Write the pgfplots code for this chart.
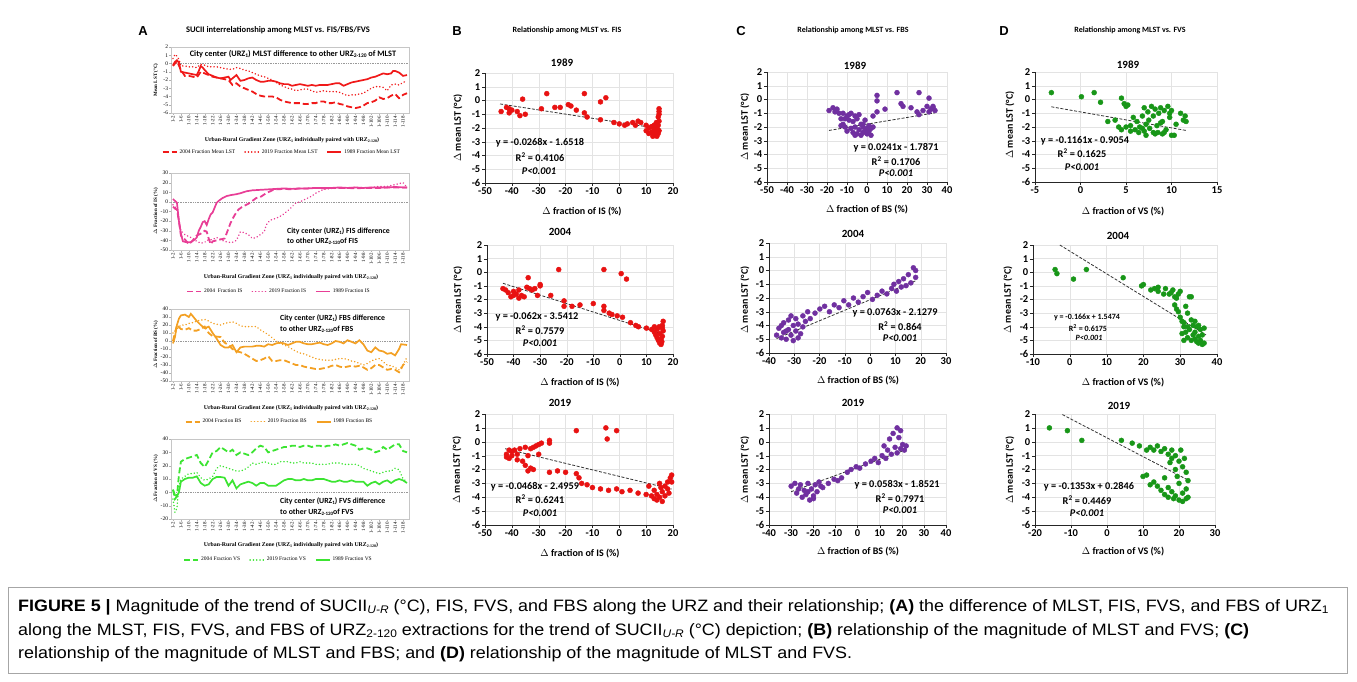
\documentclass[border=0pt]{standalone}
\usepackage{fontspec}
\setmainfont{Carlito}
\newfontfamily\tnr{Liberation Serif}
\newfontfamily\arl{Liberation Sans}
\newfontfamily\capfont[FakeStretch=1.085]{Liberation Sans}
\usepackage{pgfplots}
\pgfplotsset{compat=1.18}
\definecolor{cred}{RGB}{240,25,25}
\definecolor{cpink}{RGB}{232,62,150}
\definecolor{corange}{RGB}{243,160,35}
\definecolor{cgreen}{RGB}{60,228,50}
\definecolor{sred}{RGB}{232,18,18}
\definecolor{spurple}{RGB}{112,48,160}
\definecolor{sgreen}{RGB}{24,150,24}
\newcommand\sbs[2]{\raisebox{-0.3ex}{\fontsize{#1}{#1}\selectfont #2}}
\newcommand\fl{\bfseries\fontsize{10}{11}\selectfont}
\newcommand\fa{\bfseries\fontsize{10.3}{12}\selectfont}
\newcommand\ftl{\bfseries\fontsize{11}{12}\selectfont}
\pgfplotsset{
 aax/.style={scale only axis, width=238pt, xmin=1, xmax=121, xtick={2,6,...,118},
   xticklabel={\pgfmathtruncatemacro\tk{\tick}1-\tk},
   x tick label style={rotate=90, anchor=east, font=\tnr\fontsize{5}{5}\selectfont, inner sep=1pt},
   y tick label style={font=\tnr\fontsize{5.5}{6}\selectfont, inner sep=1pt},
   /pgf/number format/assume math mode=true,
   axis line style={gray!45}, major tick length=1.8pt, tick style={gray!60}, tick align=outside, tick pos=left,
   legend style={draw=none, fill=none, legend columns=3, anchor=center, font=\tnr\fontsize{5.5}{6}\selectfont,
     /tikz/every even column/.append style={column sep=7pt}},
   legend image code/.code={\draw[#1] (0pt,0pt) -- (14pt,0pt);}},
 dashA/.style={line width=1.8pt, dash pattern=on 6pt off 3pt},
 dotA/.style={line width=1.6pt, dash pattern=on 0.1pt off 3.2pt, line cap=round},
 solA/.style={line width=1.7pt},
 zeroA/.style={gray!80, densely dotted, line width=0.7pt, forget plot},
 sax/.style={scale only axis, ymin=-6, ymax=2, ytick={-6,...,2}, axis x line*=bottom, axis y line*=left,
   grid=major, major grid style={gray!22, line width=0.4pt}, axis line style={black!85, line width=0.7pt},
   tick style={black!85}, tick align=outside, major tick length=3pt,
   tick label style={font=\bfseries\fontsize{10.5}{11}\selectfont, inner sep=1.5pt},
   /pgf/number format/assume math mode=true, clip=false},
 dots/.style={only marks, mark=*, mark size=2.5pt, color=#1},
 trend/.style={black!80, line width=0.8pt, dash pattern=on 3pt off 1.6pt}
}
\begin{document}
\begin{tikzpicture}
\path[use as bounding box] (0pt,0pt) rectangle (1357pt,-681pt);
% ---------------- Column A ----------------
\node[font=\arl\bfseries\fontsize{13}{13}\selectfont] at (143pt,-31pt) {A};
\node[font=\bfseries\fontsize{8.5}{9}\selectfont] at (278pt,-30pt) {SUCII interrelationship among MLST vs. FIS/FBS/FVS};
% A1
\begin{axis}[aax, at={(171pt,-113pt)}, anchor=south west, height=66pt, ymin=-6, ymax=2, ytick={-6,...,2},
  legend style={at={(0.466,-0.591)}}]
\addplot[zeroA] coordinates {(1,0) (121,0)};
\addplot[cred, dashA] coordinates {(2,-0.3)(4,0.3)(6,-0.8)(8,-1.5)(10,-1.5)(12,-1.6)(14,-1.7)(16,-1.0)(18,-1.2)(20,-1.4)(22,-1.6)(24,-1.7)(26,-1.8)(28,-1.9)(30,-2.0)(32,-2.6)(34,-2.4)(36,-2.8)(38,-3.0)(40,-3.2)(42,-3.4)(44,-3.7)(46,-3.9)(48,-4.0)(50,-4.0)(52,-4.0)(54,-4.1)(56,-4.4)(58,-4.6)(60,-4.7)(62,-4.8)(64,-4.8)(66,-4.8)(68,-4.9)(70,-4.9)(72,-4.8)(74,-4.8)(76,-4.6)(78,-4.6)(80,-4.8)(82,-4.8)(84,-4.7)(86,-4.9)(88,-5.0)(90,-5.2)(92,-5.3)(94,-5.4)(96,-5.3)(98,-5.1)(100,-4.8)(102,-4.7)(104,-4.5)(106,-4.1)(108,-4.3)(110,-4.2)(112,-3.9)(114,-3.7)(116,-4.2)(118,-3.8)(120,-3.6)};
\addlegendentry{2004 Fraction Mean LST}
\addplot[cred, dotA] coordinates {(2,0.6)(3,1.1)(4,0.9)(5,0.5)(6,-0.3)(8,-0.3)(10,-0.4)(12,-0.4)(14,-0.5)(16,-0.1)(18,-0.2)(20,-0.4)(22,-0.4)(24,-0.4)(26,-0.5)(28,-0.6)(30,-0.7)(32,-0.7)(34,-0.5)(36,-0.6)(38,-0.8)(40,-0.9)(42,-1.1)(44,-1.3)(46,-1.5)(48,-1.6)(50,-1.8)(52,-2.0)(54,-2.3)(56,-2.6)(58,-2.8)(60,-3.0)(62,-3.1)(64,-3.3)(66,-3.2)(68,-3.1)(70,-3.1)(72,-3.3)(74,-3.5)(76,-3.4)(78,-3.3)(80,-3.4)(82,-3.4)(84,-3.4)(86,-3.5)(88,-3.7)(90,-3.9)(92,-3.8)(94,-3.8)(96,-3.7)(98,-3.6)(100,-3.3)(102,-3.0)(104,-2.8)(106,-2.8)(108,-2.9)(110,-3.3)(112,-2.6)(114,-2.5)(116,-2.6)(118,-2.3)(120,-2.1)};
\addlegendentry{2019 Fraction Mean LST}
\addplot[cred, solA] coordinates {(2,-0.2)(3,0.2)(4,0.4)(5,0.1)(6,-1.0)(8,-1.1)(10,-1.2)(12,-1.3)(14,-1.4)(15,-0.9)(16,-0.3)(17,-0.5)(18,-0.8)(20,-1.3)(22,-1.5)(24,-1.7)(26,-1.8)(28,-1.7)(30,-1.6)(31,-2.0)(32,-1.8)(34,-1.4)(36,-2.1)(38,-2.0)(40,-1.8)(42,-1.7)(44,-2.0)(46,-2.2)(48,-2.2)(50,-2.1)(52,-2.1)(54,-2.2)(56,-2.4)(58,-2.5)(60,-2.5)(62,-2.7)(64,-2.6)(66,-2.5)(68,-2.6)(70,-2.7)(72,-2.6)(74,-2.7)(76,-2.6)(78,-2.6)(80,-2.6)(82,-2.5)(84,-2.4)(86,-2.4)(88,-2.7)(90,-2.5)(92,-2.3)(94,-2.2)(96,-2.1)(98,-2.0)(100,-1.9)(102,-1.7)(104,-1.6)(106,-1.4)(108,-1.2)(110,-1.3)(112,-1.2)(113,-0.9)(114,-0.9)(116,-1.1)(118,-1.5)(120,-1.4)};
\addlegendentry{1989 Fraction Mean LST}
\end{axis}
\node[fill=white, inner sep=1pt, font=\bfseries\fontsize{8.3}{9}\selectfont] at (293pt,-54pt) {City center (URZ\sbs{5.5}{1}) MLST difference to other URZ\sbs{5.5}{2-120} of MLST};
\node[rotate=90, font=\tnr\bfseries\fontsize{5}{6}\selectfont] at (156pt,-80pt) {Mean LST (°C)};
\node[font=\tnr\bfseries\fontsize{5.8}{6}\selectfont] at (292pt,-140pt) {Urban-Rural Gradient Zone (URZ\sbs{4}{1} individually paired with URZ\sbs{4}{2-120})};
% A2
\begin{axis}[aax, at={(171pt,-250pt)}, anchor=south west, height=77pt, ymin=-50, ymax=30, ytick={-50,-40,...,30},
  legend style={at={(0.454,-0.54)}}]
\addplot[zeroA] coordinates {(1,0) (121,0)};
\addplot[cpink, dashA] coordinates {(2,-5)(3,-7)(4,-8)(5,-20)(6,-35)(7,-38)(8,-39)(10,-44)(12,-40)(14,-35)(16,-33)(18,-30)(19,-31)(20,-38)(21,-44)(22,-41)(24,-40)(26,-39)(28,-38)(29,-33)(31,-22)(33,-14)(35,-8)(37,-5)(40,-2)(42,1)(44,4)(46,5)(49,9)(52,12)(54,13)(58,13.5)(62,13)(66,14)(70,14)(74,14.5)(78,14)(82,14.5)(86,14.5)(90,14.5)(94,14)(98,14.5)(102,14.5)(106,14.5)(110,15)(114,15)(118,15)(120,15)};
\addlegendentry{2004\ \ Fraction IS}
\addplot[cpink, dotA] coordinates {(2,-3)(3,-5)(4,-8)(5,-20)(6,-30)(8,-34)(10,-36)(12,-38)(14,-41)(16,-43)(18,-42)(19,-40)(22,-39)(24,-37)(26,-39)(28,-41)(30,-42)(32,-42)(34,-40)(36,-31)(38,-32)(40,-34)(42,-38)(44,-37)(46,-34)(48,-31)(49,-24)(51,-19)(54,-17)(57,-14)(60,-9)(62,-5)(64,-1)(66,0)(68,2)(70,4)(72,6)(74,9)(76,11)(78,13)(82,14)(86,14.5)(90,14.5)(94,15)(98,14.5)(102,15)(106,16)(110,16)(112,17)(114,18)(116,19)(118,20)(120,15)};
\addlegendentry{2019 Fraction IS}
\addplot[cpink, solA] coordinates {(2,3)(3,1)(4,-1)(5,-20)(6,-33)(7,-41)(9,-42)(11,-42)(13,-39)(14,-37)(15,-30)(16,-26)(17,-21)(18,-20)(19,-24)(20,-18)(21,-13)(22,-11)(23,-6)(24,-1)(25,1)(27,4)(29,6)(31,7)(34,8)(36,9)(39,11)(42,12)(46,12.5)(50,13)(54,13.5)(58,14)(62,13.5)(66,14)(70,14)(74,14.5)(78,14.5)(82,14.5)(86,15)(90,14.5)(94,15)(98,14.5)(102,15)(106,15)(110,15)(114,15.5)(118,15)(120,15)};
\addlegendentry{1989 Fraction IS}
\end{axis}
\node[anchor=west, align=left, inner sep=0pt, font=\bfseries\fontsize{7.8}{10}\selectfont] at (287pt,-236pt) {City center (URZ\sbs{5}{1}) FIS difference\\to other URZ\sbs{5}{2-120}of FIS};
\node[rotate=90, font=\tnr\bfseries\fontsize{5}{6}\selectfont] at (156pt,-211pt) {$\Delta$ Fraction of IS (\%)};
\node[font=\tnr\bfseries\fontsize{5.8}{6}\selectfont] at (291pt,-277pt) {Urban-Rural Gradient Zone (URZ\sbs{4}{1} individually paired with URZ\sbs{4}{2-120})};
% A3
\begin{axis}[aax, at={(171pt,-381pt)}, anchor=south west, height=72pt, ymin=-50, ymax=40, ytick={-50,-40,...,40},
  legend style={at={(0.456,-0.565)}}]
\addplot[zeroA] coordinates {(1,0) (121,0)};
\addplot[corange, dashA] coordinates {(2,0)(4,20)(6,15)(8,14)(10,16)(12,13)(14,13)(16,15)(18,18)(20,10)(22,6)(26,5)(28,-2)(30,-5)(32,-10)(34,-13)(36,-14)(38,-16)(40,-19)(42,-22)(44,-25)(46,-24)(48,-22)(50,-19)(52,-25)(54,-25)(56,-24)(58,-24)(60,-26)(62,-28)(64,-30)(66,-30)(68,-32)(70,-33)(72,-34)(74,-35)(76,-35)(78,-34)(80,-33)(82,-31)(84,-30)(86,-32)(88,-33)(90,-32)(92,-31)(94,-32)(96,-31)(98,-33)(100,-36)(102,-34)(104,-30)(106,-30)(108,-33)(110,-36)(112,-35)(114,-36)(116,-39)(117,-35)(118,-30)(120,-26)};
\addlegendentry{2004 Fraction BS}
\addplot[corange, dotA] coordinates {(2,10)(4,15)(6,20)(8,20)(10,22)(12,23)(14,25)(16,26)(18,27)(20,25)(22,22)(24,21)(26,20)(28,22)(30,23)(32,24)(34,22)(36,19)(38,18)(40,18)(42,18)(44,18)(46,14)(48,11)(50,8)(52,4)(54,0)(56,-3)(58,-5)(60,-7)(62,-10)(64,-13)(66,-15)(68,-16)(70,-18)(72,-20)(74,-22)(76,-23)(78,-24)(80,-24)(82,-24)(84,-23)(86,-22)(88,-22)(90,-23)(92,-25)(94,-26)(96,-28)(98,-30)(100,-28)(102,-25)(104,-23)(106,-22)(108,-26)(110,-30)(112,-31)(114,-33)(116,-36)(118,-30)(120,-20)};
\addlegendentry{2019 Fraction BS}
\addplot[corange, solA] coordinates {(2,-3)(3,5)(4,20)(5,28)(6,32)(8,33)(10,30)(11,34)(12,31)(14,25)(16,20)(18,16)(20,18)(22,10)(24,3)(26,-5)(28,-8)(30,-8)(32,-5)(34,-14)(36,-8)(38,-7)(40,-7)(42,-7)(44,-6)(46,-6)(48,-7)(50,-4)(52,-5)(54,-3)(56,-2)(58,-3)(60,-5)(62,-3)(64,-1)(66,-1)(68,-3)(70,-4)(72,-4)(74,-3)(76,-2)(78,-4)(80,-5)(82,-3)(84,0)(86,-1)(88,-3)(90,1)(92,-1)(94,-3)(96,1)(98,-4)(100,-12)(102,-14)(104,-8)(106,-12)(108,-13)(110,-16)(112,-15)(114,-18)(116,-10)(117,-4)(120,-5)};
\addlegendentry{1989 Fraction BS}
\end{axis}
\node[anchor=west, align=left, inner sep=0pt, font=\bfseries\fontsize{7.8}{10.5}\selectfont] at (280pt,-323.5pt) {City center (URZ\sbs{5}{1}) FBS difference\\to other URZ\sbs{5}{2-120}of FBS};
\node[rotate=90, font=\tnr\bfseries\fontsize{5}{6}\selectfont] at (156pt,-345pt) {$\Delta$ Fraction of BS (\%)};
\node[font=\tnr\bfseries\fontsize{5.8}{6}\selectfont] at (291pt,-408pt) {Urban-Rural Gradient Zone (URZ\sbs{4}{1} individually paired with URZ\sbs{4}{2-120})};
% A4
\begin{axis}[aax, at={(171pt,-519pt)}, anchor=south west, height=80pt, ymin=-20, ymax=40, ytick={-20,-10,...,40},
  legend style={at={(0.452,-0.51)}}]
\addplot[zeroA] coordinates {(1,0) (121,0)};
\addplot[cgreen, dashA] coordinates {(2,2)(3,-5)(4,-3)(5,13)(6,23)(8,25)(10,26)(12,27)(14,28)(16,22)(18,19)(20,24)(22,30)(24,31)(26,34)(28,32)(30,30)(32,32)(34,28)(36,30)(38,29)(40,28)(42,30)(44,33)(46,35)(48,34)(50,30)(52,31)(54,32)(56,33)(58,34)(60,34)(62,35)(64,35)(66,34)(68,35)(70,35)(72,34)(74,35)(76,35)(78,34)(80,35)(82,35)(84,36)(86,35)(88,36)(90,37)(92,36)(94,35)(96,32)(98,33)(100,33)(102,32)(104,30)(106,31)(108,34)(110,32)(112,34)(114,36)(116,36)(118,31)(120,30)};
\addlegendentry{2004 Fraction VS}
\addplot[cgreen, dotA] coordinates {(2,-5)(3,-15)(4,-12)(5,5)(6,10)(8,12)(10,14)(12,14)(14,15)(16,11)(18,9)(20,10)(22,12)(24,18)(26,20)(28,19)(30,18)(32,17)(34,16)(36,16)(38,17)(40,19)(42,22)(44,21)(46,22)(48,23)(50,22)(52,21)(54,21)(56,23)(58,23)(60,23)(62,22)(64,22)(66,23)(68,22)(70,22)(72,22)(74,21)(76,21)(78,21)(80,21)(82,22)(84,22)(86,22)(88,21)(90,21)(92,21)(94,21)(96,20)(98,18)(100,17)(102,16)(104,15)(106,14)(108,15)(110,16)(112,16)(114,18)(116,17)(118,10)(120,8)};
\addlegendentry{2019 Fraction VS}
\addplot[cgreen, solA] coordinates {(2,2)(3,-2)(4,-3)(5,0)(6,8)(8,10)(10,11)(12,11)(14,12)(16,7)(18,5)(20,6)(22,10)(24,11.5)(26,11.5)(28,11)(30,5)(32,9)(34,3)(36,6)(38,7)(40,8)(42,7)(44,5)(46,7)(48,7)(50,5)(52,5)(54,5)(56,7)(58,9)(60,10)(62,10)(64,9)(66,9)(68,10)(70,9)(72,9)(74,10)(76,10)(78,10)(80,9)(82,8)(84,8)(86,9)(88,8)(90,8)(92,9)(94,8)(96,8)(98,8)(100,5)(102,7)(104,8)(106,6)(108,8)(110,9)(112,7)(114,9)(116,10)(118,9)(120,7)};
\addlegendentry{1989 Fraction VS}
\end{axis}
\node[anchor=west, align=left, inner sep=0pt, font=\bfseries\fontsize{7.8}{10.5}\selectfont] at (280pt,-506.5pt) {City center (URZ\sbs{5}{1}) FVS difference\\to other URZ\sbs{5}{2-120}of FVS};
\node[rotate=90, font=\tnr\bfseries\fontsize{5}{6}\selectfont] at (156pt,-479pt) {$\Delta$ Fraction of VS (\%)};
\node[font=\tnr\bfseries\fontsize{5.8}{6}\selectfont] at (291pt,-545pt) {Urban-Rural Gradient Zone (URZ\sbs{4}{1} individually paired with URZ\sbs{4}{2-120})};
% ---------------- Column B ----------------
\node[font=\arl\bfseries\fontsize{13}{13}\selectfont] at (457pt,-31pt) {B};
\node[font=\bfseries\fontsize{8}{9}\selectfont] at (567pt,-30pt) {Relationship among MLST vs. FIS};
% B1989
\begin{axis}[sax, at={(485pt,-183pt)}, anchor=south west, width=188pt, height=110pt, xmin=-50, xmax=20, xtick={-50,-40,...,20}]
\addplot[dots=sred] coordinates {(-44,-0.8)(-42,-0.5)(-41,-0.6)(-41,-0.9)(-40,-0.7)(-38,-0.8)(-37,-1.1)(-35,-1.0)(-36,0.1)(-29,-0.6)(-27,0.5)(-24,-0.5)(-22,-0.5)(-19,-0.3)(-18,-0.4)(-16,-0.7)(-13,-0.9)(-13,0.5)(-12,-1.2)(-7,-1.4)(-7,-0.1)(-5,0.2)(-2,-1.6)(0,-1.7)(2,-1.8)(3,-1.7)(5,-1.6)(6,-1.8)(7,-1.5)(8,-1.6)(10,-2.2)(10,-1.8)(11,-2.0)(12,-2.3)(12,-1.9)(13,-2.5)(13,-2.1)(13.5,-2.3)(14,-2.6)(14,-2.0)(14.5,-1.8)(14.5,-1.2)(14.8,-0.8)(14.8,-0.6)(14.8,-1.0)(14.8,-1.5)(14.8,-2.2)(14.5,-2.4)(13,-1.8)(11,-2.4)(12.5,-2.6)(14,-2.3)(13.8,-1.6)};
\addplot[trend] coordinates {(-44.4,-0.25) (15.3,-2.06)};
\end{axis}
\node at (562pt,-63pt) {\ftl 1989};
\node[rotate=90] at (458pt,-128pt) {\fl $\Delta$ mean LST (°C)};
\node at (582pt,-212pt) {\fl $\Delta$ fraction of IS (\%)};
\node at (540pt,-143pt) {\fa y = -0.0268x - 1.6518};
\node at (540pt,-157pt) {\fa R\textsuperscript{2} = 0.4106};
\node at (539pt,-171pt) {\fa\itshape P<0.001};
% B2004
\begin{axis}[sax, at={(487pt,-354pt)}, anchor=south west, width=186pt, height=109pt, xmin=-50, xmax=20, xtick={-50,-40,...,20}]
\addplot[dots=sred] coordinates {(-44,-1.2)(-43,-1.3)(-42,-1.5)(-41,-1.8)(-40,-1.4)(-40,-1.7)(-39,-1.6)(-38,-1.9)(-38,-1.3)(-37,-1.7)(-36,-1.8)(-35,-1.1)(-34.5,-0.4)(-34,-1.2)(-33,-1.3)(-32,-1.2)(-31,-1.7)(-30,-1.0)(-30,-0.9)(-26,-1.7)(-23,0.2)(-21,-2.1)(-21,-2.5)(-18,-2.5)(-15,-2.4)(-10,-2.3)(-6,0.2)(-6,-2.5)(-6,-2.8)(-4,-3.0)(-3,-3.1)(-1,-3.2)(0.5,-0.1)(1,-3.3)(2.5,-0.5)(4,-3.7)(6,-3.9)(7,-4.0)(10,-4.1)(12,-4.2)(13,-4.4)(13.5,-4.6)(14,-4.8)(14,-4.2)(14.5,-5.0)(15,-5.2)(15,-4.5)(15.5,-4.9)(15.5,-5.3)(16,-4.7)(16,-4.1)(16,-3.9)(16.3,-3.6)(16.3,-4.3)(15.8,-5.1)(14.8,-4.0)(13,-4.0)};
\addplot[trend] coordinates {(-44,-0.81) (16.3,-4.55)};
\end{axis}
\node at (560pt,-232pt) {\ftl 2004};
\node[rotate=90] at (458pt,-300pt) {\fl $\Delta$ mean LST (°C)};
\node at (580pt,-383pt) {\fl $\Delta$ fraction of IS (\%)};
\node at (537pt,-317pt) {\fa y = -0.062x - 3.5412};
\node at (540pt,-330pt) {\fa R\textsuperscript{2} = 0.7579};
\node at (540pt,-343pt) {\fa\itshape P<0.001};
% B2019
\begin{axis}[sax, at={(485pt,-525pt)}, anchor=south west, width=188pt, height=111pt, xmin=-50, xmax=20, xtick={-50,-40,...,20}]
\addplot[dots=sred] coordinates {(-42,-0.9)(-42,-1.1)(-41,-0.6)(-41,-1.2)(-40,-0.7)(-40,-1.0)(-39,-0.6)(-38,-0.9)(-38,-1.3)(-37,-0.5)(-36,-1.4)(-35,-0.4)(-35,-1.7)(-34,-2.1)(-34,-1.0)(-33,-0.5)(-33,-1.9)(-32,-0.4)(-32,-2.0)(-31,-0.3)(-30,-0.9)(-30,-0.2)(-29,-0.1)(-26,0.1)(-26,-0.1)(-26,-2.2)(-23,-2.1)(-20,-2.2)(-16,-2.3)(-16,0.8)(-15,-2.6)(-14,-3.0)(-12,-3.1)(-10,-3.3)(-7,-3.4)(-5,1.0)(-4.5,0.2)(-4,-3.5)(-1,0.8)(-1,-3.4)(1,-3.6)(4,-3.5)(7,-3.7)(10,-3.8)(11,-3.2)(12,-3.9)(13,-4.1)(13,-3.5)(14,-4.2)(14,-3.8)(15,-3.0)(15,-4.0)(16,-3.6)(16,-4.3)(17,-3.2)(17,-3.9)(18,-2.9)(18,-3.4)(19,-2.6)(19.5,-2.4)(19.5,-2.9)(18.5,-3.7)(15.5,-3.3)};
\addplot[trend] coordinates {(-42.5,-0.5) (19.5,-3.41)};
\end{axis}
\node at (560pt,-403pt) {\ftl 2019};
\node[rotate=90] at (457pt,-470pt) {\fl $\Delta$ mean LST (°C)};
\node at (580pt,-554pt) {\fl $\Delta$ fraction of IS (\%)};
\node at (535pt,-487pt) {\fa y = -0.0468x - 2.4959};
\node at (540pt,-499pt) {\fa R\textsuperscript{2} = 0.6241};
\node at (540pt,-513pt) {\fa\itshape P<0.001};
% ---------------- Column C ----------------
\node[font=\arl\bfseries\fontsize{13}{13}\selectfont] at (741pt,-31pt) {C};
\node[font=\bfseries\fontsize{8}{9}\selectfont] at (853pt,-30pt) {Relationship among MLST vs. FBS};
% C1989
\begin{axis}[sax, at={(767pt,-182pt)}, anchor=south west, width=180pt, height=110pt, xmin=-50, xmax=40, xtick={-50,-40,...,40}]
\addplot[dots=spurple] coordinates {(-19,-0.8)(-17,-0.6)(-16,-0.9)(-15,-0.7)(-13,-1.4)(-12,-1.0)(-12,-1.8)(-11,-2.0)(-10,-1.2)(-9,-1.5)(-8,-1.0)(-8,-2.1)(-7,-1.6)(-7,-2.4)(-6,-1.2)(-6,-2.0)(-5,-1.4)(-5,-2.5)(-4,-1.1)(-4,-2.2)(-3,-1.8)(-3,-2.6)(-2,-2.0)(-2,-2.4)(-1,-1.5)(-1,-2.3)(0,-2.1)(0,-2.5)(1,-1.9)(1,-2.3)(2,-2.1)(2,-2.6)(3,-1.2)(3,-2.0)(5,0.3)(5,-0.1)(5,-0.9)(9,-0.7)(15,0.5)(17,-0.3)(18,-0.5)(22,-0.6)(25,-0.9)(26,-1.1)(26,0.5)(28,-0.8)(30,-0.5)(31,0.1)(31,-0.9)(32,-0.7)(33,-0.5)(34,-0.8)(33,-0.6)(-10,-2.3)(-13,-1.9)(-9,-1.1)(-6,-2.6)(-2,-1.8)(-14,-1.0)(-11,-1.4)};
\addplot[trend] coordinates {(-19,-2.25) (34,-0.97)};
\end{axis}
\node at (855pt,-66pt) {\ftl 1989};
\node[rotate=90] at (745pt,-127pt) {\fl $\Delta$ mean LST (°C)};
\node at (867pt,-210pt) {\fl $\Delta$ fraction of BS (\%)};
\node at (896pt,-148pt) {\fa y = 0.0241x - 1.7871};
\node at (896pt,-161pt) {\fa R\textsuperscript{2} = 0.1706};
\node at (896pt,-173pt) {\fa\itshape P<0.001};
% C2004
\begin{axis}[sax, at={(769pt,-353pt)}, anchor=south west, width=177pt, height=110pt, xmin=-40, xmax=30, xtick={-40,-30,...,30}]
\addplot[dots=spurple] coordinates {(-37,-4.7)(-36.1,-4.2)(-35.1,-4.9)(-34.2,-4.5)(-34.2,-3.8)(-33.2,-5.0)(-32.3,-4.3)(-32.3,-3.6)(-31.3,-4.7)(-30.4,-4.0)(-30.4,-5.1)(-29.4,-3.5)(-29.4,-4.4)(-28.5,-3.9)(-27.5,-4.6)(-26.6,-3.3)(-26.6,-4.1)(-25.6,-3.7)(-24.7,-3.0)(-23.7,-3.5)(-21.8,-3.1)(-19.9,-2.8)(-18,-2.6)(-16.1,-3.0)(-14.2,-2.5)(-12.3,-2.7)(-10.4,-2.2)(-8.5,-2.5)(-6.6,-2.0)(-4.7,-2.3)(-2.8,-1.9)(-1,-1.6)(0.9,-2.1)(2.8,-1.8)(4.7,-1.5)(6.6,-1.7)(8.5,-1.3)(9.4,-1.0)(10.4,-1.5)(11.3,-0.8)(12.3,-1.2)(13.2,-0.6)(14.2,-1.1)(15.1,-0.3)(16.1,-0.9)(17.1,0.2)(18,-0.5)(18,0.0)(-35.1,-4.0)(-33.2,-4.4)(-28.5,-4.9)(-31.3,-3.3)};
\addplot[trend] coordinates {(-37,-4.95) (18,-0.75)};
\end{axis}
\node at (853pt,-234pt) {\ftl 2004};
\node[rotate=90] at (745pt,-300pt) {\fl $\Delta$ mean LST (°C)};
\node at (858pt,-381pt) {\fl $\Delta$ fraction of BS (\%)};
\node at (895pt,-313pt) {\fa y = 0.0763x - 2.1279};
\node at (900pt,-326pt) {\fa R\textsuperscript{2} = 0.864};
\node at (900pt,-338pt) {\fa\itshape P<0.001};
% C2019
\begin{axis}[sax, at={(769pt,-525pt)}, anchor=south west, width=177pt, height=111pt, xmin=-40, xmax=40, xtick={-40,-30,...,40}]
\addplot[dots=spurple] coordinates {(-30,-3.2)(-28.3,-3.0)(-27.5,-3.7)(-25.8,-3.1)(-25,-4.0)(-24.1,-3.5)(-23.3,-3.8)(-22.4,-3.0)(-21.6,-4.2)(-20.8,-3.4)(-19.9,-3.9)(-19.1,-3.1)(-18.3,-3.6)(-17.4,-2.9)(-15.7,-3.3)(-13.2,-3.0)(-10.6,-2.7)(-8.9,-2.8)(-7.2,-2.6)(-4.6,-2.2)(-2.9,-2.0)(-0.6,-1.8)(1.0,-1.9)(3.6,-1.6)(6.1,-1.4)(7.8,-1.2)(9.4,-1.5)(11.1,-1.0)(12,-0.3)(12.8,-1.2)(13.6,-0.6)(14.5,0.2)(15.3,-0.9)(16.1,0.6)(17,-0.4)(17.9,1.0)(17.9,-0.8)(18.7,0.3)(19.5,-0.5)(20.4,-0.2)(21.2,-0.6)(22,-0.3)(19.5,0.8)(-26.6,-3.4)(-22.4,-3.6)(-19.9,-4.1)(-16.6,-3.2)};
\addplot[trend] coordinates {(-30,-3.60) (22,-0.57)};
\end{axis}
\node at (853pt,-403pt) {\ftl 2019};
\node[rotate=90] at (745pt,-470pt) {\fl $\Delta$ mean LST (°C)};
\node at (858pt,-552pt) {\fl $\Delta$ fraction of BS (\%)};
\node at (897pt,-485pt) {\fa y = 0.0583x - 1.8521};
\node at (900pt,-498pt) {\fa R\textsuperscript{2} = 0.7971};
\node at (900pt,-510pt) {\fa\itshape P<0.001};
% ---------------- Column D ----------------
\node[font=\arl\bfseries\fontsize{13}{13}\selectfont] at (1004pt,-31pt) {D};
\node[font=\bfseries\fontsize{8}{9}\selectfont] at (1130pt,-30pt) {Relationship among MLST vs. FVS};
% D1989
\begin{axis}[sax, at={(1035pt,-182pt)}, anchor=south west, width=182pt, height=110pt, xmin=-5, xmax=15, xtick={-5,0,...,15}]
\addplot[dots=sgreen] coordinates {(-3.2,0.5)(0.1,0.2)(1.5,0.5)(2.2,-0.2)(4.5,0.1)(4.8,-0.3)(5,-0.5)(5.2,-0.4)(3,-1.6)(3.8,-1.5)(4.2,-2.0)(4.5,-2.2)(5,-2.0)(5.5,-1.9)(5.8,-1.3)(6,-2.2)(6.2,-1.6)(6.5,-2.0)(6.8,-1.2)(7,-0.6)(7,-2.3)(7.2,-1.8)(7.4,-0.9)(7.5,-1.5)(7.6,-2.1)(7.8,-0.5)(8,-2.4)(8,-1.2)(8.2,-0.7)(8.4,-1.9)(8.5,-2.4)(8.6,-1.0)(8.8,-0.6)(9,-2.5)(9,-1.6)(9.2,-0.8)(9.4,-2.2)(9.6,-0.5)(9.8,-1.3)(10,-2.6)(10,-0.8)(10.3,-2.6)(10.5,-1.8)(11,-1.0)(11.3,-1.5)(11.5,-1.2)(11.6,-1.6)(6.4,-2.4)(7.2,-2.6)(8.2,-2.5)(9.2,-2.4)(5.5,-2.3)(6.8,-2.1)(8.8,-1.7)(9.8,-1.0)};
\addplot[trend] coordinates {(-3.2,-0.53) (11.6,-2.25)};
\end{axis}
\node at (1128pt,-65pt) {\ftl 1989};
\node[rotate=90] at (1010pt,-125pt) {\fl $\Delta$ mean LST (°C)};
\node at (1123pt,-212pt) {\fl $\Delta$ fraction of VS (\%)};
\node at (1085pt,-141pt) {\fa y = -0.1161x - 0.9054};
\node at (1082pt,-153pt) {\fa R\textsuperscript{2} = 0.1625};
\node at (1082pt,-167pt) {\fa\itshape P<0.001};
% D2004
\begin{axis}[sax, at={(1033pt,-354pt)}, anchor=south west, width=184pt, height=109pt, xmin=-10, xmax=40, xtick={-10,0,...,40}]
\addplot[dots=sgreen] coordinates {(-4,0.2)(-3.5,-0.1)(1,-0.5)(4.5,0.2)(14.5,-0.4)(19.5,-1.0)(20,-0.9)(22,-1.3)(23,-1.2)(24,-1.1)(24,-1.4)(25.5,-1.6)(26,-1.2)(27,-1.6)(27.5,-1.5)(28,-1.3)(28.5,-1.8)(28.5,-2.4)(29,-2.7)(29,-1.9)(29.5,-1.6)(29.5,-2.9)(30,-1.4)(30,-3.3)(30.5,-3.6)(31,-4.0)(31,-3.7)(31.5,-4.4)(31.5,-2.5)(32,-3.0)(32,-4.8)(32.5,-4.2)(32.5,-1.8)(33,-1.8)(33,-5.0)(33.5,-4.6)(33.5,-3.9)(34,-4.4)(34,-4.9)(34.5,-5.1)(34.5,-4.0)(35,-4.7)(35,-5.2)(35.5,-4.2)(35.5,-5.0)(36,-5.3)(36,-4.6)(36.5,-5.2)(36.5,-4.1)(35,-3.9)(33,-3.5)(30.5,-4.5)(31,-5.0)(34,-3.6)(32,-4.0)};
\addplot[trend] coordinates {(-2.7,2.0) (37,-4.60)};
\end{axis}
\node at (1118pt,-236pt) {\ftl 2004};
\node[rotate=90] at (1008pt,-300pt) {\fl $\Delta$ mean LST (°C)};
\node at (1123pt,-383pt) {\fl $\Delta$ fraction of VS (\%)};
\node at (1087pt,-317pt) {\bfseries\fontsize{8}{9}\selectfont y = -0.166x + 1.5474};
\node at (1088pt,-328pt) {\bfseries\fontsize{8}{9}\selectfont R\textsuperscript{2} = 0.6175};
\node at (1089pt,-338pt) {\bfseries\itshape\fontsize{8}{9}\selectfont P<0.001};
% D2019
\begin{axis}[sax, at={(1035pt,-525pt)}, anchor=south west, width=180pt, height=111pt, xmin=-20, xmax=30, xtick={-20,-10,...,30}]
\addplot[dots=sgreen] coordinates {(-16,1.0)(-11,0.8)(-7,0.1)(4,0.1)(7,-0.1)(9,-0.3)(10,-2.5)(11,-2.4)(12,-0.4)(13,-0.6)(13,-2.9)(14,-3.2)(14,-0.3)(15,-0.7)(15,-3.5)(16,-0.5)(16,-3.8)(16,-2.6)(17,-0.9)(17,-3.3)(17,-4.0)(18,-0.6)(18,-1.2)(18,-3.6)(19,-1.0)(19,-3.9)(19,-2.0)(20,-1.4)(20,-4.2)(20,-3.0)(21,-1.8)(21,-3.7)(21,-4.3)(22,-2.2)(22,-3.4)(22,-4.1)(22.5,-2.8)(22.5,-4.0)(21.5,-1.2)(20.5,-0.6)(19.5,-2.5)(18.5,-4.1)(17.5,-1.5)(12,-3.1)(11,-0.6)};
\addplot[trend] coordinates {(-12.4,1.96) (22.5,-2.76)};
\end{axis}
\node at (1119pt,-406pt) {\ftl 2019};
\node[rotate=90] at (1010pt,-470pt) {\fl $\Delta$ mean LST (°C)};
\node at (1123pt,-552pt) {\fl $\Delta$ fraction of VS (\%)};
\node at (1089pt,-487pt) {\fa y = -0.1353x + 0.2846};
\node at (1087pt,-500pt) {\fa R\textsuperscript{2} = 0.4469};
\node at (1087pt,-513pt) {\fa\itshape P<0.001};
% ---------------- Caption ----------------
\draw[gray!70, line width=0.6pt] (8pt,-587pt) rectangle (1347pt,-673pt);
\begin{scope}[every node/.style={anchor=base west, inner sep=0pt, font=\capfont\fontsize{16.5}{17}\selectfont}]
\node at (18pt,-611pt) {\textbf{FIGURE 5 |} Magnitude of the trend of SUCII\sbs{11}{\itshape U-R} (°C), FIS, FVS, and FBS along the URZ and their relationship; \textbf{(A)} the difference of MLST, FIS, FVS, and FBS of URZ\sbs{11}{1}};
\node at (18pt,-635pt) {along the MLST, FIS, FVS, and FBS of URZ\sbs{11}{2-120} extractions for the trend of SUCII\sbs{11}{\itshape U-R} (°C) depiction; \textbf{(B)} relationship of the magnitude of MLST and FVS; \textbf{(C)}};
\node at (18pt,-658pt) {relationship of the magnitude of MLST and FBS; and \textbf{(D)} relationship of the magnitude of MLST and FVS.};
\end{scope}
\end{tikzpicture}
\end{document}
